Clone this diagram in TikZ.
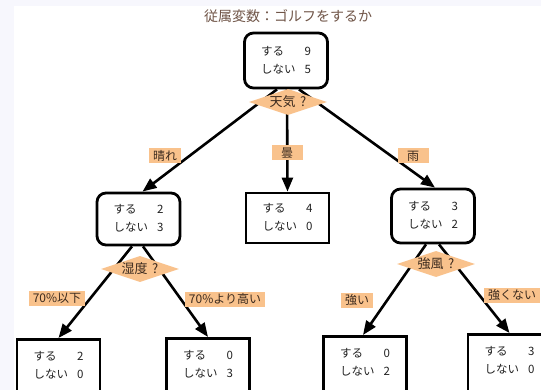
\documentclass[tikz,border=0pt]{standalone}
\usepackage{fontspec}
\setmainfont{Noto Sans CJK JP}
\usetikzlibrary{arrows.meta,shapes.geometric,calc}
\definecolor{orng}{HTML}{F9C28C}
\definecolor{ttl}{HTML}{705548}
\definecolor{lbltxt}{HTML}{3B2A1E}
\definecolor{band}{HTML}{F7F7FD}
\definecolor{boxtxt}{HTML}{222222}
\newcommand{\cnt}[2]{{\fontsize{11.5}{18}\selectfont\begin{tabular}{@{}l@{\hspace{9pt}}l@{}}する&#1\\しない&#2\end{tabular}}}
\newcommand{\cntt}[2]{{\fontsize{11.5}{18}\selectfont\begin{tabular}[t]{@{}l@{\hspace{9pt}}l@{}}する&#1\\しない&#2\end{tabular}}}
\tikzset{
  box/.style={draw, line width=2.8pt, minimum width=83pt, inner sep=0pt, fill=white, text=boxtxt},
  rbox/.style={box, rounded corners=9pt},
  leafbox/.style={box, anchor=north, text height=21pt, text depth=40pt},
  dia/.style={diamond, fill=orng, inner sep=0pt, aspect=3, minimum width=78pt, minimum height=26pt, text=lbltxt, font=\fontsize{13}{15}\selectfont},
  elabel/.style={fill=orng, text=lbltxt, inner xsep=4pt, inner ysep=1pt, minimum width=31pt, minimum height=15pt, font=\fontsize{12}{14}\selectfont},
  arr/.style={line width=2.6pt, -{Triangle[length=14pt,width=11pt]}}
}
\begin{document}
\begin{tikzpicture}[x=1pt,y=-1pt]
\useasboundingbox (0,0) rectangle (541,390);
\clip (0,0) rectangle (541,390);
\fill[white] (0,0) rectangle (541,390);
\fill[band] (0,0) rectangle (541,6);
\fill[band] (0,0) rectangle (14,390);

\node[font=\fontsize{14}{16}\selectfont, text=ttl] (title) at (288,16) {従属変数：ゴルフをするか};

\node[rbox, minimum height=55pt] (root) at (286,60.5) {\cnt{9}{5}};
\node[rbox, minimum height=52pt] (L) at (138.5,219) {\cnt{2}{3}};
\node[box, minimum height=50pt] (M) at (287.5,218) {\cnt{4}{0}};
\node[rbox, minimum height=54pt] (R) at (433,216) {\cnt{3}{2}};

\node[leafbox] (LL) at (58.5,338) {\cntt{2}{0}};
\node[leafbox] (LR) at (208,337) {\cntt{0}{3}};
\node[leafbox] (RL) at (365,335) {\cntt{0}{2}};
\node[leafbox] (RR) at (509.5,333) {\cntt{3}{0}};

\draw[arr] ($(root.south)+(-9,0)$) -- ($(L.north)+(4,0)$);
\draw[arr] ($(root.south)+(1,0)$) -- (M.north);
\draw[arr] ($(root.south)+(13,0)$) -- ($(R.north)+(2,0)$);
\draw[arr] ($(L.south)+(-6.5,0)$) -- (LL.north);
\draw[arr] ($(L.south)+(4.5,0)$) -- (LR.north);
\draw[arr] ($(R.south)+(-7,0)$) -- ($(RL.north)+(-2,0)$);
\draw[arr] ($(R.south)+(6,0)$) -- (RR.north);

\node[dia] (d1) at (288,102) {天気\hspace{0.35em}?};
\node[dia] (d2) at (140,269) {湿度\hspace{0.35em}?};
\node[dia] (d3) at (436,264) {強風\hspace{0.35em}?};

\node[elabel] (l1) at (165,156) {晴れ};
\node[elabel] (l2) at (287,153) {曇};
\node[elabel] (l3) at (413,156) {雨};
\node[elabel] (l4) at (57,298) {70\%以下};
\node[elabel] (l5) at (225,299) {70\%より高い};
\node[elabel] (l6) at (357,300) {強い};
\node[elabel] (l7) at (512,295) {強くない};
\end{tikzpicture}
\end{document}
